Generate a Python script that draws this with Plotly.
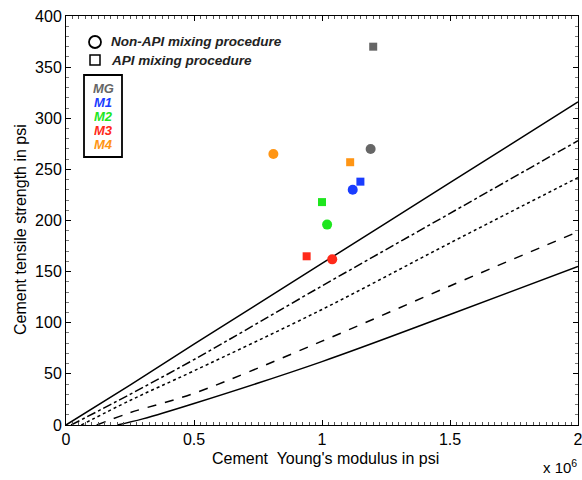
import plotly.graph_objects as go

# ---- data (x in units of 1e6 psi, y in psi) ----
groups = ["MG", "M1", "M2", "M3", "M4"]
colors = ["#666666", "#1a3cff", "#1ee61e", "#ff2a1a", "#ff9514"]

nonapi_E = [1.19, 1.12, 1.02, 1.04, 0.81]
nonapi_T = [270, 230, 196, 162, 265]
api_E = [1.20, 1.15, 1.00, 0.94, 1.11]
api_T = [370, 238, 218, 165, 257]

line_solid_top_x = [0.0, 0.25, 0.5, 1.0, 1.5, 2.0]
line_solid_top_y = [0, 39, 79, 158, 237, 316]
line_dashdot_x = [0.02, 0.25, 0.5, 1.0, 1.5, 2.0]
line_dashdot_y = [0, 30, 64, 136, 207, 278]
line_dot_x = [0.06, 0.25, 0.5, 1.0, 1.5, 2.0]
line_dot_y = [0, 24, 53, 113, 178, 242]
line_dash_x = [0.12, 0.25, 0.5, 1.0, 1.5, 2.0]
line_dash_y = [0, 12, 31, 82, 136, 189]
line_solid_bot_x = [0.2, 0.3, 0.5, 1.0, 1.5, 2.0]
line_solid_bot_y = [0, 6, 21, 62, 108, 155]

x_ticks = [0, 0.5, 1, 1.5, 2]
x_ticklabels = ["0", "0.5", "1", "1.5", "2"]
y_ticks = [0, 50, 100, 150, 200, 250, 300, 350, 400]

fig = go.Figure()

curves = [
    (line_solid_top_x, line_solid_top_y, "solid"),
    (line_dashdot_x, line_dashdot_y, "dashdot"),
    (line_dot_x, line_dot_y, "dot"),
    (line_dash_x, line_dash_y, "dash"),
    (line_solid_bot_x, line_solid_bot_y, "solid"),
]
for xs, ys, d in curves:
    fig.add_trace(go.Scatter(x=xs, y=ys, mode="lines", line_shape="spline",
                             line=dict(color="black", width=1.5, dash=d),
                             showlegend=False, hoverinfo="skip"))

fig.add_trace(go.Scatter(x=nonapi_E, y=nonapi_T, mode="markers",
                         marker=dict(symbol="circle", size=10, color=colors),
                         showlegend=False))
fig.add_trace(go.Scatter(x=api_E, y=api_T, mode="markers",
                         marker=dict(symbol="square", size=8, color=colors),
                         showlegend=False))

W, H = 582, 480
L, R, T, B = 66, 4, 16, 55
pw, ph = W - L - R, H - T - B


def px(xp):
    return (xp - L) / pw


def py(yp):
    return (H - B - yp) / ph


font_fam = "Liberation Sans, Arial, Helvetica, sans-serif"

shapes = [
    dict(type="circle", xref="paper", yref="paper", xsizemode="pixel", ysizemode="pixel",
         xanchor=px(95), yanchor=py(42), x0=-6, x1=6, y0=-6, y1=6,
         line=dict(color="black", width=1.8)),
    dict(type="rect", xref="paper", yref="paper", xsizemode="pixel", ysizemode="pixel",
         xanchor=px(95), yanchor=py(60), x0=-5, x1=5, y0=-5, y1=5,
         line=dict(color="black", width=1.5)),
    dict(type="rect", xref="paper", yref="paper", x0=px(84), x1=px(122), y0=py(157), y1=py(75),
         line=dict(color="black", width=1.8), fillcolor="rgba(0,0,0,0)"),
]
annotations = [
    dict(xref="paper", yref="paper", x=px(109), y=py(42), xanchor="left", yanchor="middle",
         text="<b><i>Non-API mixing procedure</i></b>", showarrow=False,
         font=dict(family=font_fam, size=13.5, color="#222")),
    dict(xref="paper", yref="paper", x=px(109), y=py(60), xanchor="left", yanchor="middle",
         text="<b><i>API mixing procedure</i></b>", showarrow=False,
         font=dict(family=font_fam, size=13.5, color="#222")),
    dict(xref="paper", yref="paper", x=px(579), y=py(467), xanchor="right", yanchor="middle",
         text="x 10<sup>6</sup>", showarrow=False,
         font=dict(family=font_fam, size=15, color="black")),
    dict(xref="paper", yref="paper", x=px(325), y=py(458), xanchor="center", yanchor="middle",
         text="Cement  Young's modulus in psi", showarrow=False,
         font=dict(family=font_fam, size=16, color="black")),
    dict(xref="paper", yref="paper", x=px(20), y=py(230), xanchor="center", yanchor="middle",
         text="Cement tensile strength in psi", showarrow=False, textangle=-90,
         font=dict(family=font_fam, size=16, color="black")),
]
label_y = [88, 102, 116, 130, 144]
for g, c, yy in zip(groups, colors, label_y):
    annotations.append(dict(xref="paper", yref="paper", x=px(103), y=py(yy),
                            xanchor="center", yanchor="middle", height=14,
                            text=f"<b><i>{g}</i></b>", showarrow=False,
                            font=dict(family=font_fam, size=13, color=c)))

fig.update_layout(
    width=W, height=H,
    margin=dict(l=L, r=R, t=T, b=B),
    plot_bgcolor="white", paper_bgcolor="white",
    font=dict(family=font_fam, size=16, color="black"),
    shapes=shapes, annotations=annotations,
    xaxis=dict(range=[0, 2], tickvals=x_ticks, ticktext=x_ticklabels, automargin=False,
               ticklabeloverflow="allow",
               showgrid=False, zeroline=False, showline=True, linecolor="black",
               linewidth=1, mirror="ticks", ticks="inside", ticklen=5, tickcolor="black",
               minor=dict(dtick=0.025, ticks="inside", ticklen=3, tickcolor="#555", showgrid=False),
               tickfont=dict(size=16)),
    yaxis=dict(range=[0, 400], tickvals=y_ticks, automargin=False,
               ticklabeloverflow="allow",
               showgrid=False, zeroline=False, showline=True, linecolor="black",
               linewidth=1, mirror="ticks", ticks="inside", ticklen=5, tickcolor="black",
               minor=dict(dtick=10, ticks="inside", ticklen=3, tickcolor="#777", showgrid=False),
               tickfont=dict(size=16)),
)

fig.write_html("out.html", config={"displayModeBar": False},
               post_script="document.body.style.margin='0';document.body.style.padding='0';")
